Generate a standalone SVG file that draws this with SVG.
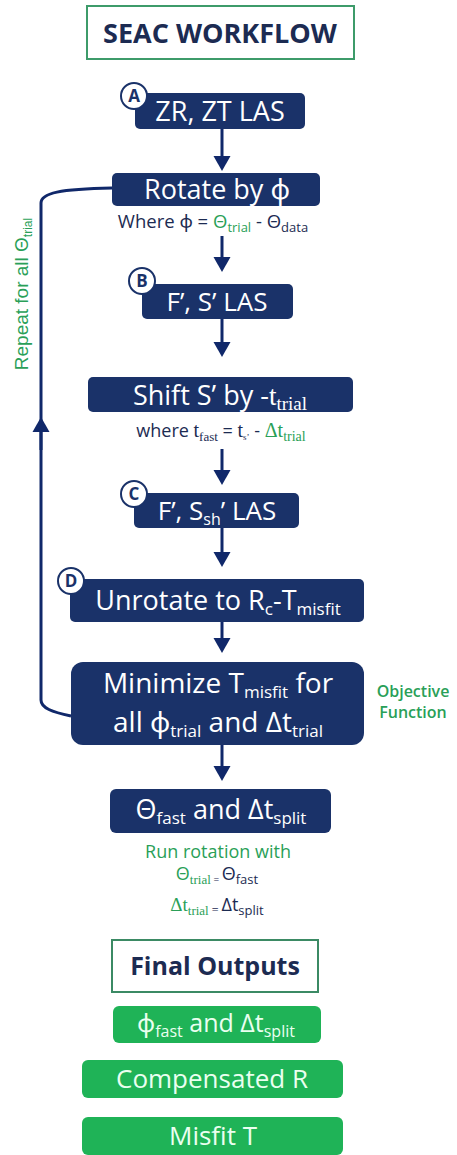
<svg xmlns="http://www.w3.org/2000/svg" width="457" height="1155" viewBox="0 0 457 1155">
<style>
.t{font-family:"Open Sans","Noto Sans","DejaVu Sans",sans-serif}
.tm{font-family:"Liberation Serif","Times New Roman",serif}
.ar{font-family:"Liberation Sans",Arial,sans-serif}
.nb{fill:#1a3269}
.gb{fill:#1fb357}
.wt{fill:#ffffff}
.gt{fill:#eafff0}
.nv{fill:#1c2b52}
.gr{fill:#2a9f58}
.lab{fill:#ffffff;stroke:#1a3269;stroke-width:2}
.lt{font-family:"Open Sans",sans-serif;font-weight:700;font-size:17px;fill:#1a3269}
.con{stroke:#10286a;stroke-width:3;fill:none}
</style>
<defs>
<marker id="ah" markerUnits="userSpaceOnUse" markerWidth="17" markerHeight="17" refX="0" refY="8.5" orient="auto" overflow="visible">
<path d="M0,0 L15,8.5 L0,17 Z" fill="#10286a"/>
</marker>
</defs>

<g id="title">
<rect x="87" y="6" width="267" height="53" fill="#ffffff" stroke="#3d9b6a" stroke-width="2"/>
<text class="t nv" x="220" y="43" font-size="27" font-weight="700" text-anchor="middle">SEAC WORKFLOW</text>
</g>

<g id="connectors">
<line class="con" x1="222" y1="129" x2="222" y2="156" marker-end="url(#ah)"/>
<line class="con" x1="222" y1="236" x2="222" y2="257" marker-end="url(#ah)"/>
<line class="con" x1="222" y1="319" x2="222" y2="342" marker-end="url(#ah)"/>
<line class="con" x1="222" y1="449" x2="222" y2="470" marker-end="url(#ah)"/>
<line class="con" x1="222" y1="528" x2="222" y2="552" marker-end="url(#ah)"/>
<line class="con" x1="222" y1="622" x2="222" y2="638" marker-end="url(#ah)"/>
<line class="con" x1="222" y1="745" x2="222" y2="766" marker-end="url(#ah)"/>
<path class="con" stroke-width="2.5" d="M71,716 C52,712 41,708 41,700 L41,203 C41,193 60,189 112,188"/>
<line class="con" stroke-width="2.5" x1="41" y1="450" x2="41" y2="432" marker-end="url(#ah)"/>
</g>

<g id="loop-label">
<text class="ar gr" transform="translate(28,294) rotate(-90)" font-size="19" text-anchor="middle">Repeat for all Θ<tspan font-size="12" dy="4">trial</tspan></text>
</g>

<g id="nodeA">
<rect class="nb" x="135" y="93" width="170" height="36" rx="5"/>
<text class="t wt" x="220" y="121" font-size="27" text-anchor="middle">ZR, ZT LAS</text>
<circle class="lab" cx="134" cy="96" r="13"/>
<text class="lt" x="134" y="102" text-anchor="middle">A</text>
</g>

<g id="rotate">
<rect class="nb" x="112" y="173" width="208" height="33" rx="5"/>
<text class="t wt" x="217" y="199" font-size="27" text-anchor="middle">Rotate by ϕ</text>
<text class="t nv" x="213" y="228" font-size="18.5" text-anchor="middle">Where ϕ = <tspan class="gr">Θ</tspan><tspan class="gr" font-size="13" dy="4">trial</tspan><tspan dy="-4"> - Θ</tspan><tspan font-size="13" dy="4">data</tspan></text>
</g>

<g id="nodeB">
<rect class="nb" x="142" y="284" width="151" height="35" rx="5"/>
<text class="t wt" x="217" y="311" font-size="26" text-anchor="middle">F’, S’ LAS</text>
<circle class="lab" cx="142" cy="281" r="13"/>
<text class="lt" x="142" y="287" text-anchor="middle">B</text>
</g>

<g id="shift">
<rect class="nb" x="88" y="377" width="265" height="35" rx="5"/>
<text class="t wt" x="220" y="405" font-size="27" text-anchor="middle">Shift S’ by -<tspan class="tm">t</tspan><tspan class="tm" font-size="19" dy="5">trial</tspan></text>
<text class="t nv" x="221" y="437" font-size="18" text-anchor="middle">where <tspan class="tm" font-size="20">t</tspan><tspan class="tm" font-size="13" dy="4">fast</tspan><tspan dy="-4"> = </tspan><tspan class="tm" font-size="20">t</tspan><tspan class="tm" font-size="9" dy="3">s’</tspan><tspan dy="-3"> - </tspan><tspan class="tm gr" font-size="20">Δt</tspan><tspan class="tm gr" font-size="14" dy="4">trial</tspan></text>
</g>

<g id="nodeC">
<rect class="nb" x="134" y="493" width="165" height="35" rx="5"/>
<text class="t wt" x="217" y="520" font-size="26" text-anchor="middle">F’, S<tspan font-size="16" dy="5">sh</tspan><tspan dy="-5">’ LAS</tspan></text>
<circle class="lab" cx="134" cy="494" r="13"/>
<text class="lt" x="134" y="500" text-anchor="middle">C</text>
</g>

<g id="nodeD">
<rect class="nb" x="70" y="579" width="294" height="43" rx="5"/>
<text class="t wt" x="218" y="610" font-size="27" text-anchor="middle">Unrotate to R<tspan font-size="17" dy="5">c</tspan><tspan dy="-5">-T</tspan><tspan font-size="17" dy="5">misfit</tspan></text>
<circle class="lab" cx="71" cy="581" r="13"/>
<text class="lt" x="71" y="587" text-anchor="middle">D</text>
</g>

<g id="minimize">
<rect class="nb" x="71" y="662" width="293" height="83" rx="12"/>
<text class="t wt" x="218" y="693" font-size="28" text-anchor="middle">Minimize T<tspan font-size="17" dy="5">misfit</tspan><tspan dy="-5"> for</tspan></text>
<text class="t wt" x="218" y="732" font-size="28" text-anchor="middle">all ϕ<tspan font-size="17" dy="5">trial</tspan><tspan dy="-5"> and Δt</tspan><tspan font-size="17" dy="5">trial</tspan></text>
<text class="t gr" x="413" y="697" font-size="16" font-weight="600" text-anchor="middle">Objective</text>
<text class="t gr" x="413" y="718" font-size="16" font-weight="600" text-anchor="middle">Function</text>
</g>

<g id="result">
<rect class="nb" x="110" y="789" width="221" height="44" rx="6"/>
<text class="t wt" x="221" y="819" font-size="27" text-anchor="middle">Θ<tspan font-size="17" dy="5">fast</tspan><tspan dy="-5"> and Δt</tspan><tspan font-size="17" dy="5">split</tspan></text>
<text class="t gr" x="218" y="858" font-size="18" font-weight="500" text-anchor="middle">Run rotation with</text>
<text class="t nv" x="217" y="880" font-size="18" text-anchor="middle"><tspan class="gr">Θ</tspan><tspan class="tm gr" font-size="13" dy="4">trial</tspan><tspan font-size="10" dy="-1"> = </tspan><tspan dy="-3">Θ</tspan><tspan font-size="13" dy="4">fast</tspan></text>
<text class="tm nv" x="217" y="911" font-size="19" text-anchor="middle"><tspan class="gr">Δt</tspan><tspan class="gr" font-size="13" dy="4">trial</tspan><tspan font-size="12" dy="-1"> = </tspan><tspan class="t" font-size="18" dy="-3">Δt</tspan><tspan class="t" font-size="13" dy="4">split</tspan></text>
</g>

<g id="final-title">
<rect x="112" y="940" width="206" height="52" fill="#ffffff" stroke="#3b8a64" stroke-width="2"/>
<text class="t nv" x="215" y="975" font-size="25" font-weight="700" text-anchor="middle">Final Outputs</text>
</g>

<g id="out1">
<rect class="gb" x="113" y="1006" width="208" height="37" rx="6"/>
<text class="t gt" x="216" y="1032" font-size="25" text-anchor="middle">ϕ<tspan font-size="16" dy="5">fast</tspan><tspan dy="-5"> and Δt</tspan><tspan font-size="16" dy="5">split</tspan></text>
</g>

<g id="out2">
<rect class="gb" x="82" y="1060" width="261" height="38" rx="6"/>
<text class="t gt" x="212" y="1088" font-size="26" text-anchor="middle">Compensated R</text>
</g>

<g id="out3">
<rect class="gb" x="82" y="1117" width="261" height="38" rx="6"/>
<text class="t gt" x="213" y="1145" font-size="26" text-anchor="middle">Misfit T</text>
</g>
</svg>
